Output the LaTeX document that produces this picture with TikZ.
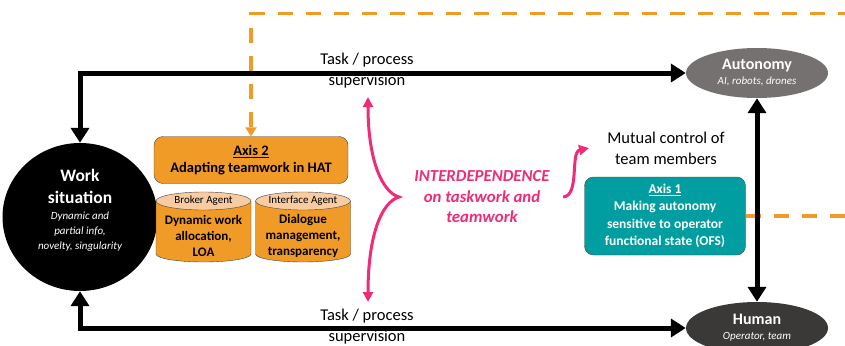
\documentclass[tikz,border=0pt]{standalone}
\usepackage{fontspec}
\setmainfont{Carlito}
\usetikzlibrary{arrows.meta,shapes.geometric}

\definecolor{orangeaxe}{RGB}{240,154,40}
\definecolor{orangeclair}{RGB}{248,203,160}
\definecolor{tealaxe}{RGB}{0,158,160}
\definecolor{grisauto}{RGB}{118,113,113}
\definecolor{grishum}{RGB}{59,56,56}
\definecolor{rose}{RGB}{238,44,122}
\definecolor{bord}{RGB}{70,70,70}

\begin{document}
\begin{tikzpicture}[x=1pt,y=-1pt,
	fleche/.style={line width=5pt,{Triangle[length=15pt,width=18pt]}-{Triangle[length=15pt,width=18pt]}},
	tirets/.style={orangeaxe,line width=3.5pt,dash pattern=on 15pt off 13pt,-{Triangle[length=9pt,width=11pt]}},
	rosefl/.style={rose,line width=3pt,-{Triangle[length=10pt,width=10pt]}},
	boite/.style={draw=bord,thin,rounded corners=9pt,align=center,font=\fontsize{14.5}{17}\selectfont\bfseries},
	pole/.style={ellipse,minimum width=142pt,inner sep=0pt,text=white,align=center,font=\fontsize{11}{15}\selectfont\itshape},
	texte/.style={align=center,font=\fontsize{16.5}{21}\selectfont}]
	\clip (0,0) rectangle (845,345);
	\fill[white] (0,0) rectangle (845,345);

	% Noeuds
	\node[ellipse,fill=black,minimum width=155pt,minimum height=148pt,inner sep=0pt] (work) at (80,217) {};
	\node[align=center,text=white,font=\fontsize{11}{15}\selectfont\itshape] (work-texte) at (80,210)
		{{\fontsize{17.5}{21}\selectfont\bfseries\upshape Work}\\[7pt]{\fontsize{17.5}{21}\selectfont\bfseries\upshape situation}\\[1pt]
		Dynamic and\\partial info,\\novelty, singularity};
	\node[pole,fill=grisauto,minimum height=50pt] (autonomy) at (757,73)
		{{\fontsize{16}{17}\selectfont\bfseries\upshape Autonomy}\\AI, robots, drones};
	\node[pole,fill=grishum,minimum height=52pt] (human) at (757,328)
		{{\fontsize{16}{17}\selectfont\bfseries\upshape Human}\\Operator, team};

	\node[boite,fill=orangeaxe,minimum width=194pt,minimum height=47pt] (axis2) at (251,160)
		{\underline{Axis 2}\\Adapting teamwork in HAT};
	\node[boite,fill=tealaxe,text=white,minimum width=161pt,minimum height=78pt,font=\fontsize{13.5}{17.5}\selectfont\bfseries] (axis1) at (665,216)
		{\underline{Axis 1}\\Making autonomy\\sensitive to operator\\functional state (OFS)};

	% Cylindres
	\foreach \cx/\nom/\titre/\corps in {203.5/broker/{Broker Agent}/{Dynamic work\\allocation,\\LOA},
		303/interface/{Interface Agent}/{Dialogue\\management,\\transparency}}{
		\filldraw[fill=orangeaxe,draw=bord,thin] (\cx-47.5,201) -- (\cx-47.5,254) arc (180:0:47.5 and 8) -- (\cx+47.5,201) -- cycle;
		\filldraw[fill=orangeclair,draw=bord,thin] (\cx,201) ellipse (47.5 and 9);
		\node[font=\fontsize{11}{12}\selectfont] (\nom-titre) at (\cx,201) {\titre};
		\node[align=center,font=\fontsize{13}{16}\selectfont\bfseries] (\nom) at (\cx,236) {\corps};
	}

	\node[texte] (tache-haut) at (367,71) {Task / process\\supervision};
	\node[texte] (tache-bas) at (367,327) {Task / process\\supervision};
	\node[texte] (mutual) at (666,148) {Mutual control of\\team members};
	\node[align=center,text=rose,font=\fontsize{16.8}{20.5}\selectfont\bfseries\itshape] (interdep) at (482,197)
		{INTERDEPENDENCE\\on taskwork and\\teamwork};

	% Flèches
	\draw[tirets] (axis1.east) -- (880,216) -- (880,13.5) -| (axis2.north);
	\draw[fleche] (work.north) |- (autonomy.west);
	\draw[fleche] (work.south) |- (human.west);
	\draw[fleche] (autonomy.south) -- (human.north);
	\draw[rosefl,{Triangle[length=10pt,width=10pt]}-{Triangle[length=10pt,width=10pt]}] (368,97)
		.. controls (368,160) and (382,192) .. (399,197) .. controls (382,202) and (368,234) .. (368,302);
	\coordinate (mutual-pointe) at (589,148);
	\draw[rosefl] ([xshift=10pt]interdep.east) .. controls (580,196) and (570,152) .. (mutual-pointe);
\end{tikzpicture}
\end{document}
